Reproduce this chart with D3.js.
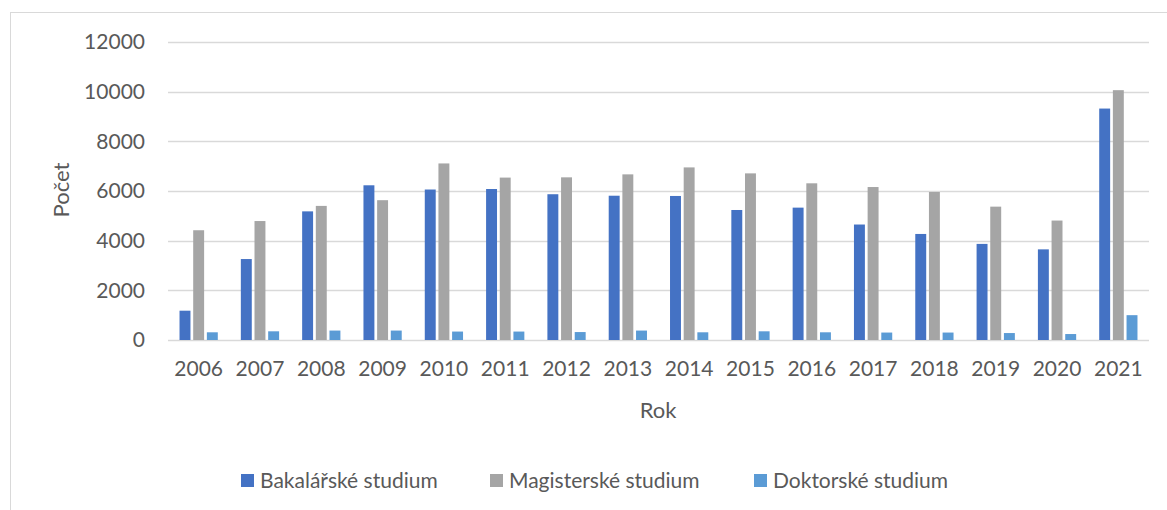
<!DOCTYPE html>
<html>
<head>
<meta charset="utf-8">
<script src="https://cdn.jsdelivr.net/npm/d3@7"></script>
<style>
  body { margin: 0; background: #fff; }
  text { font-family: Lato, "Open Sans", sans-serif; fill: #595959; }
</style>
</head>
<body>
<div id="chart"></div>
<script>

//********************* DATA ************************************

var years = ["2006", "2007", "2008", "2009", "2010", "2011", "2012", "2013",
             "2014", "2015", "2016", "2017", "2018", "2019", "2020", "2021"];
var seriesNames = ["Bakalářské studium", "Magisterské studium", "Doktorské studium"];
var bakalarske = [1180, 3260, 5180, 6230, 6060, 6080, 5870, 5810, 5800, 5235, 5330, 4650, 4270, 3870, 3650, 9320];
var magisterske = [4420, 4790, 5400, 5630, 7110, 6540, 6550, 6670, 6950, 6710, 6310, 6160, 5960, 5370, 4810, 10060];
var doktorske = [310, 350, 380, 380, 340, 340, 320, 380, 310, 350, 310, 300, 300, 280, 240, 1000];
var yTicks = [0, 2000, 4000, 6000, 8000, 10000, 12000];
var colors = ["#4472C4", "#A5A5A5", "#5B9BD5"];

//********************* DIMENSIONS ************************************

var W = 1167, H = 510;
var margin = {top: 42, left: 168, right: 18},
    plotW = 1149 - margin.left,
    plotH = 340 - margin.top;

var svg = d3.select("#chart").append("svg")
    .attr("width", W)
    .attr("height", H);

// chart frame (only top & left edges are visible in the crop)
svg.append("rect")
    .attr("x", 10.5).attr("y", 12.5)
    .attr("width", W).attr("height", H)
    .attr("fill", "none")
    .attr("stroke", "#d9d9d9")
    .attr("stroke-width", 1);

var g = svg.append("g")
    .attr("transform", "translate(" + margin.left + "," + margin.top + ")");

var x0 = d3.scaleBand().domain(years).range([0, plotW]);
var x1 = d3.scaleBand().domain(d3.range(3)).range([0, 41]).paddingInner(0.2).paddingOuter(0.1);
var y = d3.scaleLinear().domain([0, 12000]).range([plotH, 0]);

//********************* GRID & AXES ************************************

g.selectAll(".grid")
    .data(yTicks)
  .enter().append("line")
    .attr("x1", 0).attr("x2", plotW)
    .attr("y1", function(d) { return Math.round(y(d)) + 0.5; })
    .attr("y2", function(d) { return Math.round(y(d)) + 0.5; })
    .attr("stroke", "#d9d9d9")
    .attr("stroke-width", 1.3);

var yAxis = g.append("g")
    .call(d3.axisLeft(y).tickValues(yTicks).tickSize(0).tickPadding(23).tickFormat(d3.format("d")));
yAxis.select(".domain").remove();
yAxis.selectAll("text").style("font-size", "21px").attr("fill", "#595959");

var xAxis = g.append("g")
    .attr("transform", "translate(0," + plotH + ")")
    .call(d3.axisBottom(x0).tickSize(0).tickPadding(21));
xAxis.select(".domain").remove();
xAxis.selectAll("text").style("font-size", "21px").attr("fill", "#595959");

//********************* BARS ************************************

var data = years.map(function(yr, i) {
  return [bakalarske[i], magisterske[i], doktorske[i]];
});

var groups = g.selectAll(".year")
    .data(data)
  .enter().append("g")
    .attr("transform", function(d, i) {
      return "translate(" + (x0(years[i]) + x0.bandwidth() / 2 - 20.5) + ",0)";
    });

groups.selectAll("rect")
    .data(function(d) { return d; })
  .enter().append("rect")
    .attr("x", function(d, j) { return x1(j); })
    .attr("width", x1.bandwidth())
    .attr("y", function(d) { return y(d); })
    .attr("height", function(d) { return plotH - y(d); })
    .attr("fill", function(d, j) { return colors[j]; });

//********************* TITLES ************************************

svg.append("text")
    .attr("transform", "translate(69,190) rotate(-90)")
    .attr("text-anchor", "middle")
    .style("font-size", "22px")
    .text("Počet");

svg.append("text")
    .attr("x", 658).attr("y", 418)
    .attr("text-anchor", "middle")
    .style("font-size", "22px")
    .text("Rok");

//********************* LEGEND ************************************

var legendX = [241, 490, 754];
var legend = svg.selectAll(".legend")
    .data(seriesNames)
  .enter().append("g")
    .attr("transform", function(d, i) { return "translate(" + legendX[i] + ",474)"; });

legend.append("rect")
    .attr("width", 13).attr("height", 13)
    .attr("fill", function(d, i) { return colors[i]; });

legend.append("text")
    .attr("x", 19).attr("y", 13.5)
    .style("font-size", "21px")
    .text(function(d) { return d; });

</script>
</body>
</html>
